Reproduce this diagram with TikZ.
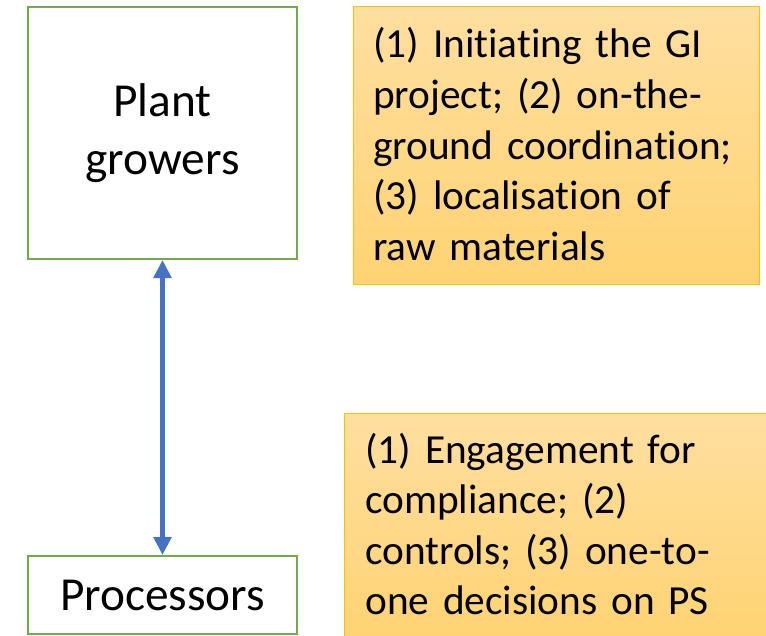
\documentclass[tikz,border=0pt]{standalone}
\usepackage{fontspec}
\setmainfont{Carlito}[Ligatures=NoCommon]
\definecolor{ActorColor}{RGB}{112,173,71}
\definecolor{LinkColor}{RGB}{68,114,196}
\definecolor{NoteColor}{RGB}{255,192,0}
\definecolor{NoteTopColor}{RGB}{255,223,160}
\definecolor{NoteBottomColor}{RGB}{255,211,115}
\usepackage{tikz}
\usetikzlibrary{positioning, arrows.meta}
\tikzstyle{actor} = [draw=ActorColor, line width=1.5pt, fill=white, align=center, font=\fontsize{35.5}{43.5}\selectfont]
\tikzstyle{note} = [draw=NoteColor, line width=0.8pt, top color=NoteTopColor, bottom color=NoteBottomColor, inner sep=0pt]
\tikzstyle{notetext} = [anchor=base west, inner sep=0pt, text width=310pt, align=left, font=\fontsize{31}{37.9}\selectfont]
\tikzstyle{link} = [line width=3.6pt, LinkColor, {Triangle[length=13.5pt,width=13pt]}-{Triangle[length=13.5pt,width=13pt]}]

\begin{document}
\begin{tikzpicture}[x=0.75pt, y=-0.75pt]
            \useasboundingbox (0,0) rectangle (766,635);
            % Actors and the link between them
            \node[actor, anchor=north west, minimum width=201.75pt, minimum height=189pt] (growers) at (27,6) {Plant\\growers};
            \node[actor, below=221.25pt of growers, minimum width=201.75pt, minimum height=58.5pt] (processors) {Processors};
            \draw[link] (growers) -- (processors);
            % Role notes
            \node[note, anchor=north west, minimum width=304.5pt, minimum height=208.5pt] (ginote) at (353,6) {};
            \node[note, anchor=north west, minimum width=319.5pt, minimum height=170.25pt] (psnote) at (344,413) {};
            \node[notetext] (gitext) at (373,58) {(1) Initiating the GI\\project; (2) on-the-\\ground coordination;\\(3) localisation of\\raw materials};
            \node[notetext] (pstext) at (365,463) {(1) Engagement for\\compliance; (2)\\controls; (3) one-to-\\one decisions on PS};
        \end{tikzpicture}
\end{document}
